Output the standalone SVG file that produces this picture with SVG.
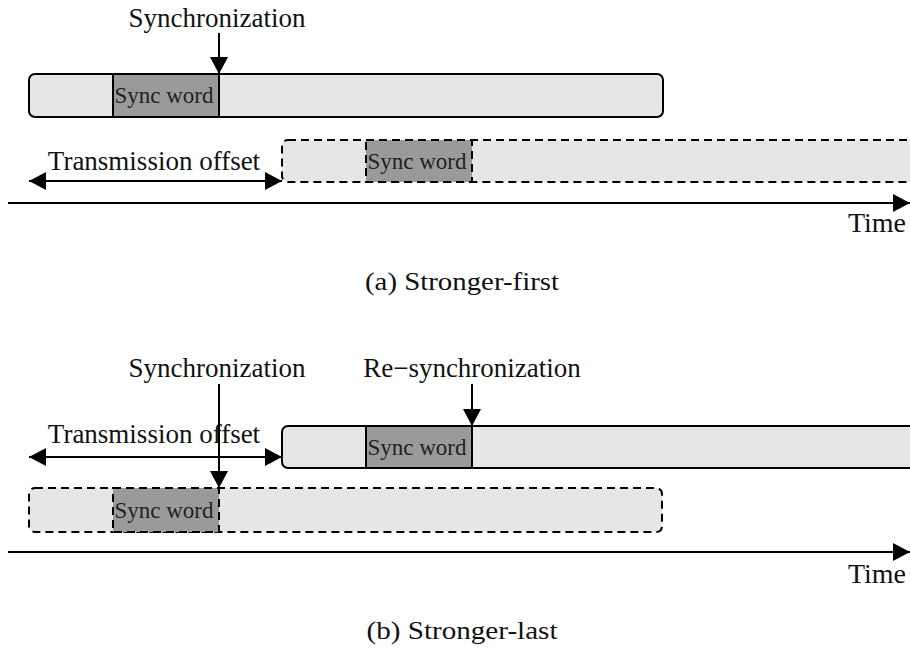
<svg xmlns="http://www.w3.org/2000/svg" width="910" height="648" viewBox="0 0 910 648">
<style>
.lbl{font-family:"Liberation Serif","Times New Roman",serif;font-size:27px;fill:#111}
.time{font-size:28px}
.sw{font-family:"Liberation Serif","Times New Roman",serif;font-size:23px;fill:#222}
.cap{font-family:"Liberation Serif","Times New Roman",serif;font-size:25px;fill:#111}
.frame{fill:#e6e6e6;stroke:#000;stroke-width:2}
.sync{fill:#9a9a9a;stroke:#000;stroke-width:2}
.dash{stroke-dasharray:8 5}
.ln{stroke:#000;stroke-width:2;fill:none}
</style>
<defs>
<marker id="ah" markerUnits="userSpaceOnUse" markerWidth="18" markerHeight="18" refX="17" refY="9" orient="auto-start-reverse" viewBox="0 0 18 18">
<path d="M0,0 L17,9 L0,18 z" fill="#000"/>
</marker>
</defs>
<rect width="910" height="648" fill="#fff"/>

<!-- (a) Stronger-first -->
<g id="a-frame1">
<rect class="frame" x="29" y="74" width="634" height="43" rx="6"/>
<rect class="sync" x="113" y="74" width="106" height="43"/>
<text class="sw" x="164" y="103" text-anchor="middle">Sync word</text>
</g>
<g id="a-frame2">
<rect class="frame dash" x="282" y="140" width="700" height="42" rx="6"/>
<rect class="sync dash" x="366" y="140" width="106" height="42"/>
<text class="sw" x="417" y="169" text-anchor="middle">Sync word</text>
</g>
<g id="a-labels">
<text class="lbl" x="217" y="27" text-anchor="middle">Synchronization</text>
<text class="lbl" x="154" y="170" text-anchor="middle">Transmission offset</text>
<text class="lbl time" x="906" y="232" text-anchor="end">Time</text>
<text class="cap" x="462" y="290" text-anchor="middle" textLength="194" lengthAdjust="spacingAndGlyphs">(a) Stronger-first</text>
</g>

<!-- (b) Stronger-last -->
<g id="b-frame1">
<rect class="frame" x="282" y="426" width="700" height="42" rx="6"/>
<rect class="sync" x="366" y="426" width="106" height="42"/>
<text class="sw" x="417" y="455" text-anchor="middle">Sync word</text>
</g>
<g id="b-frame2">
<rect class="frame dash" x="29" y="488" width="633" height="44" rx="6"/>
<rect class="sync dash" x="113" y="488" width="106" height="44"/>
<text class="sw" x="164" y="518" text-anchor="middle">Sync word</text>
</g>
<g id="b-labels">
<text class="lbl" x="217" y="377" text-anchor="middle">Synchronization</text>
<text class="lbl" x="472" y="377" text-anchor="middle">Re−synchronization</text>
<text class="lbl" x="154" y="443" text-anchor="middle">Transmission offset</text>
<text class="lbl time" x="906" y="583" text-anchor="end">Time</text>
<text class="cap" x="462" y="639" text-anchor="middle" textLength="191" lengthAdjust="spacingAndGlyphs">(b) Stronger-last</text>
</g>

<g id="connectors">
<line class="ln" x1="219" y1="33" x2="219" y2="74" marker-end="url(#ah)"/>
<line class="ln" x1="29" y1="181" x2="282" y2="181" marker-start="url(#ah)" marker-end="url(#ah)"/>
<line class="ln" x1="8" y1="203" x2="910" y2="203" marker-end="url(#ah)"/>
<line class="ln" x1="219" y1="384" x2="219" y2="488" marker-end="url(#ah)"/>
<line class="ln" x1="472" y1="384" x2="472" y2="426" marker-end="url(#ah)"/>
<line class="ln" x1="29" y1="457" x2="282" y2="457" marker-start="url(#ah)" marker-end="url(#ah)"/>
<line class="ln" x1="8" y1="552" x2="910" y2="552" marker-end="url(#ah)"/>
</g>
</svg>
